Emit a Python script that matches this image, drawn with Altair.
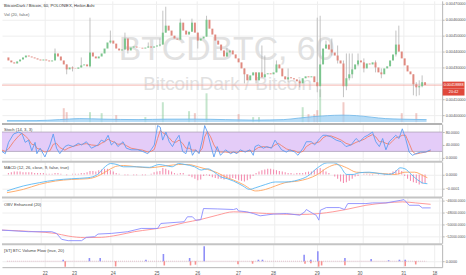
import altair as alt
import pandas as pd

# ---------------- data ----------------
# Heikin Ashi closes (BTC), one per hourly bar
close = [0.004344, 0.004332, 0.004325, 0.004338, 0.004350, 0.004363, 0.004375, 0.004369, 0.004363, 0.004357,
         0.004350, 0.004344, 0.004350, 0.004344, 0.004338, 0.004344, 0.004388, 0.004369, 0.004344, 0.004319,
         0.004288, 0.004300, 0.004294, 0.004292, 0.004300, 0.004313, 0.004319, 0.004307, 0.004394, 0.004369,
         0.004357, 0.004369, 0.004388, 0.004419, 0.004457, 0.004469, 0.004450, 0.004419, 0.004407, 0.004413,
         0.004482, 0.004407, 0.004425, 0.004432, 0.004425, 0.004424, 0.004419, 0.004425, 0.004432, 0.004425,
         0.004432, 0.004438, 0.004444, 0.004519, 0.004563, 0.004532, 0.004500, 0.004482, 0.004475, 0.004582,
         0.004532, 0.004507, 0.004525, 0.004582, 0.004519, 0.004469, 0.004482, 0.004494, 0.004600, 0.004544,
         0.004507, 0.004469, 0.004444, 0.004407, 0.004369, 0.004394, 0.004407, 0.004382, 0.004357, 0.004332,
         0.004294, 0.004257, 0.004219, 0.004250, 0.004269, 0.004219, 0.004269, 0.004238, 0.004257, 0.004263,
         0.004257, 0.004269, 0.004319, 0.004294, 0.004244, 0.004225, 0.004238, 0.004232, 0.004225, 0.004213,
         0.004200, 0.004232, 0.004244, 0.004238, 0.004244, 0.004207, 0.004182, 0.004319, 0.004419, 0.004444,
         0.004413, 0.004394, 0.004375, 0.004344, 0.004325, 0.004182, 0.004232, 0.004257, 0.004288, 0.004319,
         0.004344, 0.004332, 0.004294, 0.004325, 0.004319, 0.004332, 0.004300, 0.004269, 0.004257, 0.004294,
         0.004307, 0.004344, 0.004382, 0.004444, 0.004400, 0.004357, 0.004313, 0.004275, 0.004257, 0.004194,
         0.004175, 0.004182, 0.004207, 0.00418888]
first_open = 0.004363

wick_bar = [16, 20, 22, 25, 28, 35, 40, 41, 48, 52, 53, 54, 59, 63, 65, 68, 75, 81, 85, 87, 88, 92, 96, 100,
            106, 107, 109, 111, 113, 115, 116, 117, 118, 120, 122, 126, 128, 133, 134, 139, 140, 141, 142]
wick_high = [0.004419, 0.004319, 0.004307, 0.004363, 0.004613, 0.004532, 0.004519, 0.004482, 0.004457, 0.004482,
             0.004657, 0.004682, 0.004607, 0.004607, 0.004519, 0.004625, 0.004425, 0.004294, 0.004269, 0.004438,
             0.004375, 0.004344, 0.004294, 0.004225, 0.004613, 0.004625, 0.004469, 0.004482, 0.004438, 0.004344,
             0.004388, 0.004388, 0.004388, 0.004388, 0.004357, 0.004344, 0.004294, 0.004532, 0.004563, 0.004257,
             0.004207, 0.004219, 0.004250]
wick_low = [0.004357, 0.004257, 0.004275, 0.004300, 0.004300, 0.004450, 0.004413, 0.004388, 0.004425, 0.004432,
            0.004444, 0.004519, 0.004475, 0.004525, 0.004419, 0.004494, 0.004369, 0.004200, 0.004200, 0.004238,
            0.004238, 0.004269, 0.004207, 0.004175, 0.004144, 0.004113, 0.004419, 0.004375, 0.004325, 0.004113,
            0.004157, 0.004219, 0.004232, 0.004307, 0.004269, 0.004269, 0.004232, 0.004369, 0.004400, 0.004125,
            0.004119, 0.004125, 0.004175]

vol_idx = [19, 20, 28, 32, 37, 47, 53, 62, 64, 68, 79, 84, 86, 101, 103, 105, 106, 107, 115, 135, 140]
vol_val = [1.4, 1.0, 1.0, 0.9, 0.7, 0.5, 2.0, 1.1, 0.9, 2.9, 0.8, 0.5, 0.5, 1.5, 0.8, 0.8, 1.2, 3.3, 2.0, 0.9, 0.9]
vma_bar = [0, 10, 18, 25, 33, 45, 55, 65, 75, 85, 95, 100, 105, 110, 115, 120, 125, 130, 135, 144]
vma_val = [0.15, 0.15, 0.25, 0.35, 0.3, 0.25, 0.3, 0.3, 0.25, 0.2, 0.25, 0.4, 0.55, 0.65, 0.7, 0.65, 0.5, 0.35, 0.3, 0.25]

stoch_bar = [0, 1.1, 2.2, 3.9, 5.6, 6.7, 7.8, 8.9, 10, 11.1, 11.7, 12.8, 14.4, 16.1, 17.2, 18.3, 19.4, 21.1, 22.2, 23.9,
             25.6, 26.7, 28.3, 30, 32.2, 33.3, 34.4, 35.6, 36.7, 37.8, 38.9, 40.6, 41.7, 43.3, 45.6, 47.2, 48.9, 50, 51.1, 52.2,
             53.1, 53.9, 55, 56.1, 57.2, 58.3, 59.4, 60.6, 61.7, 62.8, 63.9, 65, 66.1, 67.2, 68, 68.9, 70, 71.1, 72.2, 73.3,
             75, 76.7,
             77.7, 78.8, 79.9, 81.6, 83.2, 84.3, 84.9, 86, 87.7, 88.8, 90.4, 91.6, 92.7, 93.8, 95.4, 96.6, 98.2, 99.3, 101, 102.1,
             103.8, 104.9, 106.6, 107.7, 108.8, 110.4, 112.1, 113.8, 115.4, 117.1, 118.8, 119.9, 121.6, 122.7, 124.3, 125.4,
             126.6, 127.7, 128.8, 129.9, 131, 132.1, 133.2, 134.3, 135.4, 136.6, 137.7, 138.8, 140.4, 142.1, 143.8]
stoch_k = [20, 13, 48, 74, 80, 75, 48, 55, 22, 48, 13, 30, 3, 40, 74, 30, 13, 35, 40, 35,
           45, 40, 50, 30, 40, 55, 50, 70, 40, 50, 35, 50, 30, 25, 25, 20, 13, 25, 40, 100,
           95, 55, 80, 50, 35, 55, 70, 20, 13, 50, 8, 25, 13, 55, 100, 80, 40, 3, 35, 8,
           25, 13,
           18, 13, 25, 18, 25, 8, 35, 40, 30, 35, 30, 55, 40, 25, 18, 25, 18, 8, 30, 50,
           50, 40, 60, 70, 70, 65, 55, 50, 35, 40, 60, 50, 65, 70, 80, 50, 35, 60, 25, 50,
           60, 70, 60, 90, 60, 18, 8, 13, 18, 18, 25]
stoch_d = [24, 20, 28, 50, 68, 76, 68, 58, 42, 40, 30, 26, 18, 22, 42, 45, 32, 24, 30, 36,
           40, 42, 44, 40, 38, 45, 50, 58, 52, 48, 42, 44, 38, 30, 26, 24, 18, 20, 26, 60,
           85, 78, 72, 62, 50, 48, 55, 45, 30, 30, 24, 24, 16, 30, 65, 82, 65, 40, 24, 18,
           18, 16,
           18, 16, 20, 20, 22, 20, 25, 32, 35, 33, 32, 40, 45, 38, 28, 24, 22, 16, 20, 35,
           45, 45, 50, 62, 68, 68, 62, 55, 45, 40, 48, 52, 58, 65, 72, 65, 50, 50, 45, 42,
           52, 62, 65, 70, 70, 45, 20, 12, 15, 18, 22]

macd_bar = [0, 5.6, 11.1, 16.7, 22.2, 27.8, 31.1, 33.3, 35.6, 37.8, 40, 44.4, 48.9, 52.2, 54.4, 56.7, 58.9, 61.1,
            64.4, 66.7, 68.9, 71.1, 73.3, 75.6, 77.7,
            81, 83.2, 85.4, 88.8, 92.1, 95.4, 99.9, 103.2, 106.6, 109.9, 112.1, 114.3, 116.6, 118.8, 121, 124.3,
            127.7, 131, 133.2, 134.9, 136.6, 138.8, 141, 143.2, 144.3]
macd_line = [-1.16e-4, -0.81e-4, -0.58e-4, -0.39e-4, -0.30e-4, -0.23e-4, 0.0, 0.47e-4, 0.77e-4, 0.70e-4, 0.54e-4,
             0.54e-4, 0.50e-4, 0.70e-4, 0.63e-4, 0.54e-4, 0.77e-4, 0.70e-4, 0.54e-4, 0.31e-4, 0.40e-4, 0.17e-4,
             -0.16e-4, -0.30e-4, -0.46e-4,
             -0.81e-4, -1.05e-4, -0.93e-4, -0.70e-4, -0.53e-4, -0.53e-4, -0.39e-4, -0.12e-4, 0.47e-4, 0.82e-4,
             0.82e-4, 0.59e-4, 0.0, 0.0, 0.12e-4, 0.16e-4, 0.07e-4, 0.0, 0.16e-4, 0.47e-4, 0.40e-4, 0.0,
             -0.39e-4, -0.63e-4, -0.65e-4]
sig_bar = [0, 5.6, 11.1, 16.7, 22.2, 27.8, 31.1, 33.3, 35.6, 37.8, 40, 44.4, 48.9, 52.2, 55.6, 58.9, 62.2, 65.6,
           68.9, 72.2, 75.6, 77.7,
           81, 85.4, 88.8, 92.1, 95.4, 99.9, 103.2, 106.6, 109.9, 113.2, 116.6, 119.9, 124.3, 128.8, 133.2, 136.6,
           139.9, 143.2, 144.3]
sig_line = [-1.28e-4, -1.05e-4, -0.70e-4, -0.46e-4, -0.35e-4, -0.30e-4, -0.12e-4, 0.12e-4, 0.40e-4, 0.59e-4,
            0.63e-4, 0.54e-4, 0.47e-4, 0.54e-4, 0.63e-4, 0.70e-4, 0.70e-4, 0.54e-4, 0.35e-4, 0.12e-4, -0.23e-4,
            -0.39e-4,
            -0.70e-4, -1.16e-4, -1.05e-4, -0.81e-4, -0.58e-4, -0.46e-4, -0.30e-4, 0.0, 0.47e-4, 0.70e-4, 0.47e-4,
            0.16e-4, 0.12e-4, 0.07e-4, 0.0, 0.16e-4, 0.16e-4, -0.12e-4, -0.23e-4]
hist = [0.1, 0.15, 0.2, 0.2, 0.2, 0.15, 0.15,
        0.15, 0.15, 0.1, 0.1, 0.1, 0.1, 0.05, 0.05, 0.05,
        0.1, 0.1, 0.05, 0, -0.05, 0, 0.05,
        0.05, 0.05, 0.1, 0.1, 0.15, 0.25, 0.25, 0.2,
        0.3, 0.35, 0.4, 0.4, 0.3, 0.2,
        0.1, 0.05, 0, -0.05, -0.05, 0, -0.05, -0.05, 0,
        -0.05, -0.05, 0, 0.05, 0.15, 0.2, 0.25,
        0.45, 0.4, 0.3, 0.2, 0.1, 0.05,
        0.1, 0.1, 0, -0.1, -0.2, -0.3, -0.4, -0.35,
        -0.1, -0.05, -0.1, -0.2, -0.25, -0.3, -0.3,
        -0.35, -0.3, -0.3, -0.25,
        -0.3, -0.4, -0.45, -0.5, -0.4, -0.3, -0.1,
        0.1, 0.2, 0.3, 0.35, 0.4, 0.4, 0.35, 0.3, 0.25,
        0.2, 0.15, 0.1, 0.1, 0.05, 0.1, 0.1, 0.1,
        0.15, 0.2, 0.2, 0.3, 0.4, 0.45, 0.35,
        0.2, 0.1, 0, -0.15, -0.3,
        -0.5, -0.6, -0.55, -0.45, -0.3, -0.15, -0.1,
        0, 0.05, 0.05, -0.05, -0.05, 0, 0.05, 0,
        -0.05, 0.05, 0.1, 0.2, 0.3, 0.35, 0.25,
        -0.1, -0.3, -0.45, -0.55, -0.6, -0.7, -0.65, -0.6]  # in 1e-4

obv_bar = [0, 8.9, 16.7, 18.3, 20, 22.2, 26.7, 28.3, 31.1, 32.2, 36.7, 42.2, 46.7, 52.2, 53.3, 61.1, 62.2, 63.9,
           65, 66.7, 67.6, 72.2, 77.7,
           78.8, 79.3, 82.1, 84.3, 86.6, 91, 95.4, 99.9, 101.6, 102.1, 104.3, 105.4, 106.3, 106.8, 108.8, 113.2,
           114.9, 116, 122.1, 124.3, 128.8, 133.8, 134.9, 136.6, 139.9, 141, 143.8]
obv_line = [-50920, -51180, -51180, -51460, -52440, -52660, -52660, -52110, -52000, -51570, -51460, -51180, -50640,
            -50640, -49820, -49540, -48720, -48720, -49280, -49200, -47360, -47420, -47520,
            -47360, -47740, -47900, -48180, -48560, -48280, -48180, -48460, -47900, -47520, -48180, -48460, -49280,
            -47640, -47200, -47200, -47520, -46540, -46540, -46430, -46430, -46000, -45890, -46820, -46820, -47250,
            -47250]
obvma_bar = [0, 11.1, 17.8, 22.2, 27.8, 33.3, 38.9, 44.4, 50, 55.6, 61.1, 66.7, 72.2, 77.7,
             88.8, 99.9, 106.6, 111, 115.4, 122.1, 128.8, 134.3, 138.8, 143.8]
obvma_line = [-50920, -51180, -51460, -51900, -52160, -52110, -51740, -51180, -50800, -50360, -49700, -49160,
              -48460, -47900, -48180, -48340, -48180, -47900, -47520, -46820, -46430, -46260, -46430, -46660]

flow_in_bar = [19.3, 28.3, 32, 47.7, 53.7, 62.7, 67.7, 86.3, 87.7, 102, 104.3, 106.7, 116, 125, 131, 134.7, 136.7]
flow_in = [0.3, 0.65, 0.65, 0.3, 1.45, 0.65, 3.0, 0.3, 0.3, 1.3, 0.3, 2.0, 0.65, 0.45, 0.2, 0.3, 0.3]
flow_out_bar = [20, 37.3, 54, 63, 64.7, 79.3, 84.3, 102.3, 104.3, 107, 108, 116, 136.7, 140.3]
flow_out = [-1.1, -1.05, -0.85, -0.85, -0.7, -0.6, -0.5, -0.5, -0.4, -1.1, -0.85, -0.8, -1.0, -0.65]

day_ticks = [13, 23, 36.3, 51.3, 65.3, 79.3, 91.3, 106.3, 121, 136, 146.7]
day_labels = ["22", "23", "24", "25", "26", "27", "28", "29", "30", "31", "18"]

price_ticks = [0.0040, 0.0041, 0.0042, 0.0043, 0.0044, 0.0045, 0.0046, 0.0047]
last_price = 0.00418888
countdown = "20:42"

# ---------------- styling ----------------
W = 443
XDOM = [0, W / 3]
UP, DOWN = "#5b9f72", "#d1503f"
FONT = "Liberation Sans"
GRID = "#eeeeee"
AXC = "#b5b5b5"
LBL = "#555555"

def x_enc(field, bottom=False):
    if bottom:
        expr = "[" + ",".join("'%s'" % s for s in day_labels) + "][indexof([" + ",".join(str(v) for v in day_ticks) + "], datum.value)]"
        ax = alt.Axis(values=day_ticks, grid=True, gridColor=GRID, labelExpr=expr, ticks=False,
                      domain=True, domainColor=AXC, labelFontSize=4.5, labelColor=LBL, labelFont=FONT,
                      labelPadding=3, title=None, labelFlush=False)
    else:
        ax = alt.Axis(values=day_ticks, grid=True, gridColor=GRID, labels=False, ticks=False,
                      domain=False, title=None)
    return alt.X(f"{field}:Q", scale=alt.Scale(domain=XDOM, nice=False, zero=False), axis=ax)

def y_enc(field, dom, ticks, fmt, size=3.8, hide=None):
    kw = {}
    if hide is not None:
        kw["labelExpr"] = "datum.value == %r ? '' : datum.label" % hide
    return alt.Y(f"{field}:Q", scale=alt.Scale(domain=dom, nice=False, zero=False),
                 axis=alt.Axis(orient="right", values=ticks, format=fmt, grid=True, gridColor=GRID,
                               domainColor=AXC, tickColor=AXC, tickSize=2, labelPadding=1,
                               labelFontSize=size, labelColor=LBL, labelFont=FONT, title=None, **kw))

def label(txt, y, color="#444444"):
    return alt.Chart(pd.DataFrame({"t": [txt]})).mark_text(
        align="left", baseline="middle", fontSize=4.2, font=FONT, color=color
    ).encode(text="t:N", x=alt.value(2), y=alt.value(y))

def separator(color="#c4c4c4", w=2):
    return alt.Chart(pd.DataFrame({"a": [0]})).mark_rule(color=color, strokeWidth=w).encode(y=alt.value(0))

# ---------------- price panel ----------------
n = len(close)
opens = [first_open] + close[:-1]
cdf = pd.DataFrame({"bar": [i + 0.5 for i in range(n)], "open": opens, "close": close})
cdf["dir"] = ["up" if c >= o else "down" for o, c in zip(opens, close)]
wdf = pd.DataFrame({"bar": [i + 0.5 for i in wick_bar], "high": wick_high, "low": wick_low})
PDOM = [0.00395625, 0.00471875]

vdf = pd.DataFrame({"bar": [i + 0.5 for i in vol_idx], "vol": vol_val,
                    "dir": [cdf["dir"][i] for i in vol_idx]})
vmadf = pd.DataFrame({"bar": vma_bar, "vma": vma_val})
VDOM = [0, 12.2]

vol_bars = alt.Chart(vdf).mark_bar(size=2, opacity=0.45).encode(
    x=x_enc("bar"),
    y=alt.Y("vol:Q", scale=alt.Scale(domain=VDOM, nice=False, zero=False), axis=None),
    color=alt.Color("dir:N", scale=alt.Scale(domain=["up", "down"], range=["#7cc58e", "#e08a80"]), legend=None),
)
vol_ma = alt.Chart(vmadf).mark_area(color="#9fd0f3", opacity=0.75, line={"color": "#6db6ea", "strokeWidth": 0.8},
                                    interpolate="monotone").encode(
    x=x_enc("bar"),
    y=alt.Y("vma:Q", scale=alt.Scale(domain=VDOM, nice=False, zero=False), axis=None),
)
vol_layer = alt.layer(vol_bars, vol_ma)

wm1 = alt.Chart(pd.DataFrame({"t": ["BTCDBTC, 60"]})).mark_text(
    align="center", baseline="alphabetic", fontSize=34, font=FONT,
    color="#e1e1e1").encode(text="t:N", x=alt.value(226), y=alt.value(60))
wm2 = alt.Chart(pd.DataFrame({"t": ["BitcoinDark / Bitcoin"]})).mark_text(
    align="center", baseline="alphabetic", fontSize=19, font=FONT,
    color="#e1e1e1").encode(text="t:N", x=alt.value(227), y=alt.value(90))

price_axis_y = y_enc("p", PDOM, price_ticks, ".8f", hide=0.0042)
pl_df = pd.DataFrame({"p": [last_price], "bar": [0]})
last_line = alt.Chart(pl_df).mark_rule(color="#f3a39b", strokeWidth=0.8).encode(y=price_axis_y)
wicks = alt.Chart(wdf).mark_rule(color="#a8a8a8", strokeWidth=0.7).encode(
    x=x_enc("bar"), y=y_enc("high", PDOM, price_ticks, ".8f", hide=0.0042), y2="low:Q")
candles = alt.Chart(cdf).mark_bar(size=2).encode(
    x=x_enc("bar"), y=y_enc("open", PDOM, price_ticks, ".8f", hide=0.0042), y2="close:Q",
    color=alt.Color("dir:N", scale=alt.Scale(domain=["up", "down"], range=[UP, DOWN]), legend=None))
box1 = alt.Chart(pl_df).mark_tick(orient="horizontal", color="#e0483b", size=22, thickness=7, opacity=1).encode(
    y=price_axis_y, x=alt.value(454.5))
box2 = alt.Chart(pl_df).mark_tick(orient="horizontal", color="#e0483b", size=22, thickness=7, opacity=1,
                                  yOffset=7).encode(y=price_axis_y, x=alt.value(454.5))
boxt1 = alt.Chart(pl_df).mark_text(color="white", fontSize=3.8, font=FONT, baseline="middle", align="center").encode(
    y=price_axis_y, x=alt.value(454.5), text=alt.Text("p:Q", format=".8f"))
boxt2 = alt.Chart(pd.DataFrame({"p": [last_price], "t": [countdown]})).mark_text(
    color="white", fontSize=3.8, font=FONT, baseline="middle", align="center", yOffset=7).encode(
    y=price_axis_y, x=alt.value(454.5), text="t:N")

price_layer = alt.layer(last_line, wicks, candles, box1, box2, boxt1, boxt2)
panel1 = alt.layer(wm1, wm2, vol_layer, price_layer,
                   label("BitcoinDark / Bitcoin, 60, POLONIEX, Heikin Ashi", 5, "#333333"),
                   label("Vol (20, false)", 14, "#666666")
                   ).resolve_scale(y="independent").properties(width=W, height=122)

# ---------------- stoch panel ----------------
SDOM = [-9.2, 104.6]
sdf = pd.DataFrame({"bar": stoch_bar, "k": stoch_k, "d": stoch_d})
band = alt.Chart(pd.DataFrame({"hi": [80], "lo": [20]})).mark_rect(color="#e4ccf8").encode(
    y=y_enc("hi", SDOM, [0, 40, 80], ".4f"), y2="lo:Q")
band_lines = alt.Chart(pd.DataFrame({"v": [20, 80]})).mark_rule(color="#a49aae", strokeWidth=0.7).encode(
    y=y_enc("v", SDOM, [0, 40, 80], ".4f"))
k_line = alt.Chart(sdf).mark_line(color="#5c9df2", strokeWidth=0.9).encode(
    x=x_enc("bar"), y=y_enc("k", SDOM, [0, 40, 80], ".4f"))
d_line = alt.Chart(sdf).mark_line(color="#f0806c", strokeWidth=0.9).encode(
    x=x_enc("bar"), y=y_enc("d", SDOM, [0, 40, 80], ".4f"))
panel2 = alt.layer(band, band_lines, d_line, k_line, separator("#9a9a9a", 1.5),
                   label("Stoch (14, 3, 3)", 6)).properties(width=W, height=37)

# ---------------- MACD panel ----------------
MDOM = [-1.559e-4, 0.888e-4]
MT = [0, -0.0001]
hdf = pd.DataFrame({"bar": [i + 0.5 for i in range(len(hist))], "h": [v * 1e-4 for v in hist], "z": 0.0})
mdf = pd.DataFrame({"bar": macd_bar, "m": macd_line})
gdf = pd.DataFrame({"bar": sig_bar, "s": sig_line})
hbars = alt.Chart(hdf).mark_bar(size=1.1, color="#f48fb1").encode(
    x=x_enc("bar"), y=y_enc("h", MDOM, MT, ".4f"), y2="z:Q")
mline = alt.Chart(mdf).mark_line(color="#5ab8f5", strokeWidth=0.9, interpolate="monotone").encode(
    x=x_enc("bar"), y=y_enc("m", MDOM, MT, ".4f"))
sline = alt.Chart(gdf).mark_line(color="#ffa45e", strokeWidth=0.9, interpolate="monotone").encode(
    x=x_enc("bar"), y=y_enc("s", MDOM, MT, ".4f"))
panel3 = alt.layer(hbars, sline, mline, separator(),
                   label("MACD (12, 26, close, 9, false, true)", 6)).properties(width=W, height=35)

# ---------------- OBV panel ----------------
ODOM = [-53098, -45557]
OT = [-46000, -48000, -50000, -52000]
odf = pd.DataFrame({"bar": obv_bar, "o": obv_line})
omdf = pd.DataFrame({"bar": obvma_bar, "om": obvma_line})
oline = alt.Chart(odf).mark_line(color="#8a8cff", strokeWidth=0.9).encode(
    x=x_enc("bar"), y=y_enc("o", ODOM, OT, ".4f", 3.4))
omline = alt.Chart(omdf).mark_line(color="#ff8f8f", strokeWidth=0.9, interpolate="monotone").encode(
    x=x_enc("bar"), y=y_enc("om", ODOM, OT, ".4f", 3.4))
panel4 = alt.layer(omline, oline, separator(),
                   label("OBV Enhanced (20)", 7)).properties(width=W, height=46)

# ---------------- Volume flow panel ----------------
FDOM = [-1.2, 3.4]
fidf = pd.DataFrame({"bar": flow_in_bar, "f": flow_in, "z": 0.0})
fodf = pd.DataFrame({"bar": flow_out_bar, "f": flow_out, "z": 0.0})
zdf = pd.DataFrame({"bar": [0.0], "bar2": [144.0], "z": [0.0]})
zero_line = alt.Chart(zdf).mark_rule(color="#d8a0b4", strokeWidth=0.8, strokeDash=[0.8, 1.2]).encode(
    x=x_enc("bar", True), x2="bar2:Q", y=y_enc("z", FDOM, [0], ".4f"))
fin = alt.Chart(fidf).mark_bar(size=1.6, color="#8f8ff7").encode(
    x=x_enc("bar", True), y=y_enc("f", FDOM, [0], ".4f"), y2="z:Q")
fout = alt.Chart(fodf).mark_bar(size=1.6, color="#f79090").encode(
    x=x_enc("bar", True), y=y_enc("f", FDOM, [0], ".4f"), y2="z:Q")
panel5 = alt.layer(zero_line, fout, fin, separator(),
                   label("[ST] BTC Volume Flow (true, 20)", 7)).properties(width=W, height=23)

chart = alt.vconcat(panel1, panel2, panel3, panel4, panel5, spacing=0).properties(
    padding=0, background="white"
).configure_view(stroke=None).configure_concat(spacing=0)

chart.save("out.html", embed_options={"renderer": "svg", "actions": False})
